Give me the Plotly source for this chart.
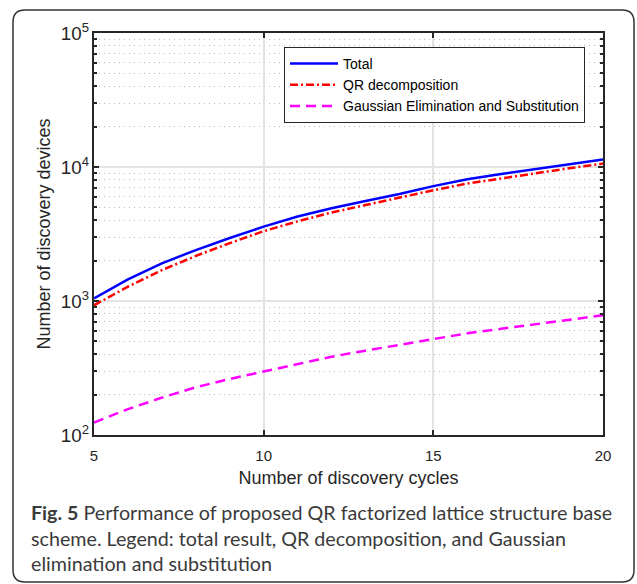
import plotly.graph_objects as go

cycles = [5, 6, 7, 8, 9, 10, 11, 12, 13, 14, 15, 16, 17, 18, 19, 20]
total = [1047, 1452, 1910, 2400, 2950, 3590, 4270, 4920, 5570, 6280, 7200, 8100, 8870, 9670, 10500, 11400]
qr = [929, 1280, 1700, 2170, 2700, 3320, 3930, 4570, 5200, 5910, 6710, 7520, 8230, 9020, 9780, 10600]
gauss = [124, 156, 190, 227, 262, 297, 337, 384, 426, 472, 520, 574, 621, 673, 725, 782]

x_ticks = [5, 10, 15, 20]
names = ["Total", "QR decomposition", "Gaussian Elimination and Substitution"]
caption = ("<b>Fig. 5</b> Performance of proposed QR factorized lattice structure base<br>"
           "scheme. Legend: total result, QR decomposition, and Gaussian<br>"
           "elimination and substitution")

W, H = 637, 584
L, R, T, B = 94, 603, 33, 435

def px(x):
    return (x - L) / (R - L)

def py(y):
    return (B - y) / (B - T)

fig = go.Figure()
fig.add_trace(go.Scatter(x=cycles, y=total, name=names[0], mode="lines",
                         line=dict(color="#0000FF", width=2.5)))
fig.add_trace(go.Scatter(x=cycles, y=qr, name=names[1], mode="lines",
                         line=dict(color="#FF0000", width=2.5, dash="8px,3px,2px,3px")))
fig.add_trace(go.Scatter(x=cycles, y=gauss, name=names[2], mode="lines",
                         line=dict(color="#FF00FF", width=2.5, dash="10px,6px")))

FONT = "Liberation Sans, Arial, sans-serif"
axis_font = dict(family=FONT, size=15, color="#262626")
title_font = dict(family=FONT, size=18, color="#262626")

fig.update_xaxes(range=[5, 20], tickvals=x_ticks, ticks="inside", ticklen=5,
                 tickcolor="#262626", tickwidth=1.5, ticklabelstandoff=6,
                 showline=True, linecolor="#262626", linewidth=2, mirror="ticks",
                 showgrid=True, gridcolor="#e3e3e3", gridwidth=1.5, zeroline=False,
                 tickfont=axis_font,
                 title=dict(text="Number of discovery cycles", standoff=8, font=title_font))
fig.update_yaxes(type="log", range=[2, 5], dtick=1, exponentformat="power",
                 ticks="inside", ticklen=5, tickcolor="#262626", tickwidth=1.5,
                 showline=True, linecolor="#262626", linewidth=2, mirror="ticks",
                 showgrid=True, gridcolor="#e3e3e3", gridwidth=1.5, zeroline=False,
                 minor=dict(dtick="D1", showgrid=True, griddash="1px,4px", gridcolor="#bdbdbd",
                            gridwidth=1, ticks="inside", ticklen=3, tickcolor="#262626"),
                 tickfont=axis_font,
                 title=dict(text="Number of discovery devices", standoff=6, font=title_font))

r = 12
x0, x1 = px(13), px(634)
y0, y1 = py(582), py(10)
rx, ry = r / (R - L), r / (B - T)
path = (f"M {x0+rx} {y1} L {x1-rx} {y1} Q {x1} {y1} {x1} {y1-ry} "
        f"L {x1} {y0+ry} Q {x1} {y0} {x1-rx} {y0} "
        f"L {x0+rx} {y0} Q {x0} {y0} {x0} {y0+ry} "
        f"L {x0} {y1-ry} Q {x0} {y1} {x0+rx} {y1} Z")

fig.update_layout(
    width=W, height=H,
    margin=dict(l=L, r=W - R, t=T, b=H - B),
    paper_bgcolor="white", plot_bgcolor="white",
    showlegend=True,
    legend=dict(x=px(284), y=py(47), xanchor="left", yanchor="top",
                bgcolor="white", bordercolor="#262626", borderwidth=1,
                font=dict(family=FONT, size=14, color="black"),
                itemwidth=48, tracegroupgap=0),
    shapes=[dict(type="path", xref="paper", yref="paper", path=path,
                 line=dict(color="#333333", width=1.5), fillcolor="rgba(0,0,0,0)", layer="below")],
    annotations=[dict(text=caption, xref="paper", yref="paper", x=px(29), y=py(499),
                      xanchor="left", yanchor="top", align="left", showarrow=False,
                      font=dict(family="Lato, Open Sans, sans-serif", size=19.7, color="#3a3a3a"))],
)

fig.write_html("out.html", config={"displayModeBar": False},
               post_script="document.body.style.margin='0';")
